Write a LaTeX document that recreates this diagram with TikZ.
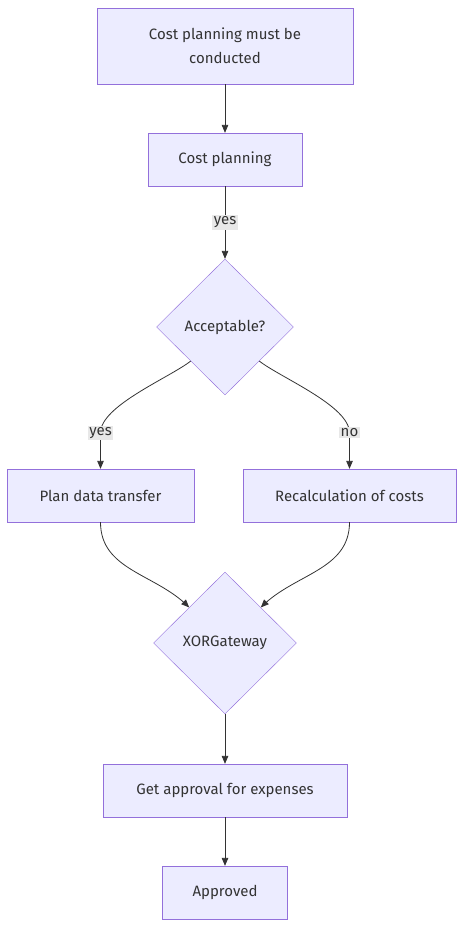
\documentclass[tikz,border=0pt]{standalone}
\usepackage{fontspec}
\setmainfont{Fira Sans}
\usetikzlibrary{shapes.geometric, arrows}
\definecolor{boxfill}{HTML}{ECECFF}
\definecolor{boxline}{HTML}{9370DB}
\definecolor{ink}{HTML}{333333}
\definecolor{lblfill}{HTML}{E8E8E8}
\tikzstyle{process} = [rectangle, minimum height=53pt, text centered, draw=boxline, fill=boxfill, text=ink, font=\fontsize{15}{24}\selectfont]
\tikzstyle{decision} = [diamond, minimum width=137pt, minimum height=136pt, inner sep=0pt, text centered, draw=boxline, fill=boxfill, text=ink, font=\fontsize{15}{24}\selectfont]
\tikzstyle{lbl} = [rectangle, fill=lblfill, inner sep=1.5pt, text=ink, font=\fontsize{15}{17}\selectfont]
\tikzstyle{arrow} = [draw=ink, line width=0.8pt, ->, >=triangle 45]

\begin{document}
\begin{tikzpicture}[node distance=100pt]
           \useasboundingbox (0,0) rectangle (472pt,-944pt);
           \node (start) [process, minimum width=256pt, minimum height=76pt, align=center] at (225pt,-46pt) {Cost planning must be\\conducted};
           \node (plan) [process, minimum width=154pt, below of=start, yshift=-13.5pt] {Cost planning};
           \node (accept) [decision, below of=plan, yshift=-67.5pt] {Acceptable?};
           \node (transfer) [process, minimum width=187pt, below of=accept, xshift=-124.5pt, yshift=-68.5pt] {Plan data transfer};
           \node (recalc) [process, minimum width=213pt, below of=accept, xshift=124.5pt, yshift=-68.5pt] {Recalculation of costs};
           \node (xor) [decision, minimum width=143pt, minimum height=142pt, below of=accept, yshift=-216pt] {XORGateway};
           \node (approval) [process, minimum width=244pt, below of=xor, yshift=-47.5pt] {Get approval for expenses};
           \node (approved) [process, minimum width=125pt, below of=approval, yshift=-2pt] {Approved};
           \path (transfer.north) ++(0,36pt) coordinate (bendL);
           \path (recalc.north) ++(0,36pt) coordinate (bendR);

           \draw [arrow] (start) -- (plan);
           \draw [arrow] (plan) -- node[lbl] {yes} (accept);
           \draw [arrow] (accept.south west) to[out=218, in=90, looseness=0.6] (bendL) -- node[lbl, pos=0] {yes} (transfer.north);
           \draw [arrow] (accept.south east) to[out=-38, in=90, looseness=0.6] (bendR) -- node[lbl, pos=0] {no} (recalc.north);
           \draw [arrow] (transfer.south) to[out=-90, in=135] (xor.north west);
           \draw [arrow] (recalc.south) to[out=-90, in=45] (xor.north east);
           \draw [arrow] (xor) -- (approval);
           \draw [arrow] (approval) -- (approved);
        \end{tikzpicture}
\end{document}
